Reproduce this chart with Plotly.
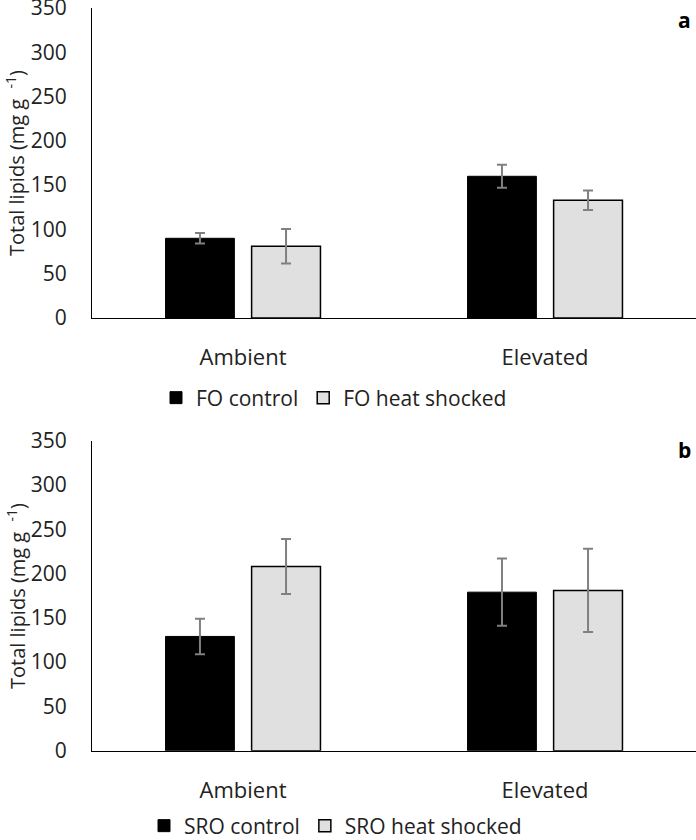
import plotly.graph_objects as go

# data
temps = ["Ambient", "Elevated"]

fo_control = [90, 160]
fo_control_err = [6, 13]
fo_heat = [81, 133]
fo_heat_err = [19.5, 11]

sro_control = [129, 179]
sro_control_err = [20, 38]
sro_heat = [208, 181]
sro_heat_err = [31, 47]

y_ticks = [0, 50, 100, 150, 200, 250, 300, 350]

FONT = "Open Sans"
ERR = dict(type="data", color="#808080", thickness=2, width=5)

fig = go.Figure()


def add_pair(ctrl, ctrl_err, heat, heat_err, names, xaxis, yaxis, legend):
    fig.add_trace(go.Bar(
        x=temps, y=ctrl, name=names[0],
        error_y=dict(array=ctrl_err, **ERR),
        marker=dict(color="black", line=dict(color="black", width=1)),
        xaxis=xaxis, yaxis=yaxis, legend=legend,
    ))
    fig.add_trace(go.Bar(
        x=temps, y=heat, name=names[1],
        error_y=dict(array=heat_err, **ERR),
        marker=dict(color="#e0e0e0", line=dict(color="black", width=1.5)),
        xaxis=xaxis, yaxis=yaxis, legend=legend,
    ))


add_pair(fo_control, fo_control_err, fo_heat, fo_heat_err,
         ["FO control", "FO heat shocked"], "x", "y", "legend")
add_pair(sro_control, sro_control_err, sro_heat, sro_heat_err,
         ["SRO control", "SRO heat shocked"], "x2", "y2", "legend2")

W, H = 696, 840
x_dom = [92 / W, 1]
y1_dom = [1 - 318 / H, 1 - 8 / H]
y2_dom = [1 - 750.7 / H, 1 - 440.7 / H]

xaxis_style = dict(
    showline=True, linecolor="black", linewidth=1, showgrid=False,
    ticks="", tickfont=dict(family=FONT, size=22, color="#222"),
    ticklabelstandoff=20, domain=x_dom,
)
yaxis_style = dict(
    range=[0, 350], tickvals=y_ticks, showline=True, linecolor="black",
    linewidth=1, showgrid=False, zeroline=False, ticks="",
    tickfont=dict(family=FONT, size=21, color="#222"),
    ticklabelstandoff=20, ticklabeloverflow="allow",
)

legend_font = dict(family=FONT, size=21, color="#222")

fig.update_layout(
    width=W, height=H,
    margin=dict(l=0, r=0, t=0, b=0, autoexpand=False),
    paper_bgcolor="white", plot_bgcolor="white",
    barmode="group", bargap=0.43, bargroupgap=0.2,
    font=dict(family=FONT, size=21, color="#222"),
    xaxis=dict(anchor="y", **xaxis_style),
    xaxis2=dict(anchor="y2", **xaxis_style),
    yaxis=dict(anchor="x", domain=y1_dom, **yaxis_style),
    yaxis2=dict(anchor="x2", domain=y2_dom, **yaxis_style),
    legend=dict(orientation="h", x=156 / W, y=1 - 398 / H, xanchor="left",
                yanchor="middle", font=legend_font),
    legend2=dict(orientation="h", x=144 / W, y=1 - 826 / H, xanchor="left",
                 yanchor="middle", font=legend_font),
)

# panel letters and y-axis titles
for label, ytop, ymid in [("a", 20, 163), ("b", 450, 596)]:
    fig.add_annotation(
        text="<b>%s</b>" % label, xref="paper", yref="paper",
        x=684 / W, y=1 - ytop / H, xanchor="center", yanchor="middle",
        showarrow=False, font=dict(family=FONT, size=21, color="black"),
    )
    fig.add_annotation(
        text="Total lipids (mg g\u00a0 <sup>-1</sup>)", xref="paper", yref="paper",
        x=16 / W, y=1 - ymid / H, xanchor="center", yanchor="middle",
        textangle=-90, showarrow=False,
        font=dict(family=FONT, size=20, color="#222"),
    )

fig.write_html("out.html", config={"displayModeBar": False},
               post_script="document.body.style.margin='0';")
